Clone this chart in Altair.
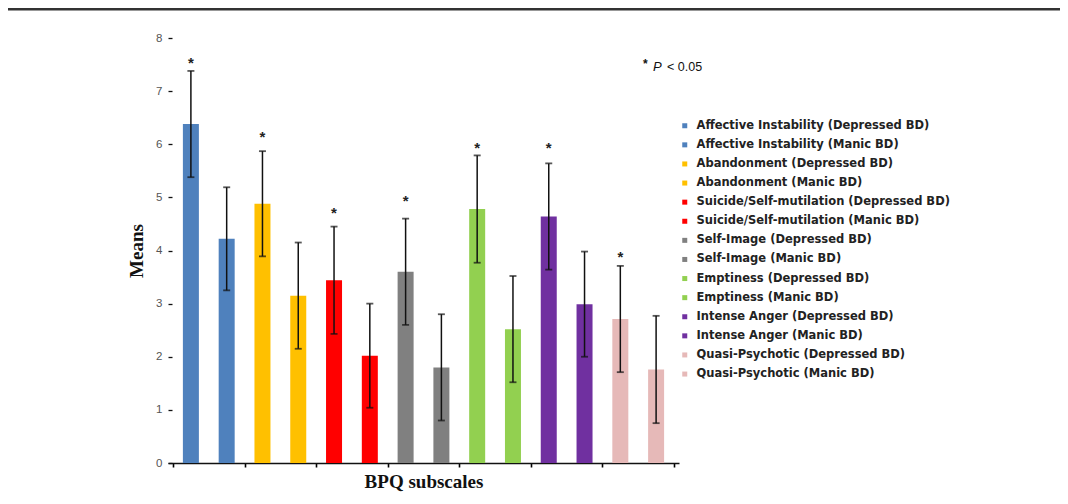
import altair as alt
import pandas as pd

labels = [
    "Affective Instability (Depressed BD)",
    "Affective Instability (Manic BD)",
    "Abandonment (Depressed BD)",
    "Abandonment (Manic BD)",
    "Suicide/Self-mutilation (Depressed BD)",
    "Suicide/Self-mutilation (Manic BD)",
    "Self-Image (Depressed BD)",
    "Self-Image (Manic BD)",
    "Emptiness (Depressed BD)",
    "Emptiness (Manic BD)",
    "Intense Anger (Depressed BD)",
    "Intense Anger (Manic BD)",
    "Quasi-Psychotic (Depressed BD)",
    "Quasi-Psychotic (Manic BD)",
]
means = [6.38, 4.22, 4.88, 3.15, 3.44, 2.02, 3.60, 1.80, 4.78, 2.52, 4.64, 2.99, 2.71, 1.76]
errors = [1.00, 0.97, 0.99, 1.00, 1.01, 0.98, 1.00, 1.00, 1.01, 1.00, 1.00, 0.99, 1.00, 1.01]
star_y = [7.59, None, 6.20, None, 4.77, None, 4.99, None, 5.98, None, 5.98, None, 3.94, None]
colors = ["#4F81BD", "#4F81BD", "#FFC000", "#FFC000", "#FF0000", "#FF0000",
          "#808080", "#808080", "#92D050", "#92D050", "#7030A0", "#7030A0",
          "#E6B9B8", "#E6B9B8"]
y_ticks = [0, 1, 2, 3, 4, 5, 6, 7, 8]

df = pd.DataFrame({
    "label": labels,
    "pos": [i + 0.5 for i in range(len(labels))],
    "mean": means,
    "lo": [m - e for m, e in zip(means, errors)],
    "hi": [m + e for m, e in zip(means, errors)],
    "star": star_y,
})
stars_df = df.dropna(subset=["star"])

W, H = 511, 425
LEFT, TOP, BOTTOM = 160, 30, 35
TOTAL_W = 1052

x = alt.X("pos:Q", scale=alt.Scale(domain=[0, 14], nice=False, zero=False),
          axis=alt.Axis(values=list(range(15)), labels=False, title="BPQ subscales",
                        titleFont="Liberation Serif", titleFontSize=19, titleFontWeight="bold",
                        titleColor="#111", titlePadding=5, tickSize=4, tickColor="#000",
                        domainColor="#111", domainWidth=1.5, tickWidth=1.6, grid=False))
y_scale = alt.Scale(domain=[0, 8], nice=False)

bars = alt.Chart(df).mark_bar(size=16).encode(
    x=x,
    y=alt.Y("mean:Q", scale=y_scale,
            axis=alt.Axis(values=y_ticks, title="Means", titleFont="Liberation Serif",
                          titleFontSize=19, titleFontWeight="bold", titleColor="#111",
                          titlePadding=9, labelFont="Liberation Sans", labelFontSize=11.5,
                          labelColor="#555", labelPadding=6, tickSize=4, tickColor="#111",
                          tickWidth=1.3, domain=False, grid=False, offset=-4)),
    color=alt.Color("label:N", sort=labels,
                    scale=alt.Scale(domain=labels, range=colors),
                    legend=alt.Legend(title=None, orient="none", legendX=511, legendY=82,
                                      symbolType="square", symbolSize=25, symbolStrokeWidth=0,
                                      labelFont="DejaVu Sans", labelFontSize=11.5,
                                      labelFontWeight="bold", labelColor="#222",
                                      labelOffset=6, rowPadding=6.1, labelLimit=400)),
)

err = alt.Chart(df).mark_rule(color="#111", strokeWidth=1.5).encode(
    x="pos:Q", y=alt.Y("lo:Q", scale=y_scale), y2="hi:Q")
cap_hi = alt.Chart(df).mark_tick(color="#111", orient="horizontal", size=7, thickness=1.8).encode(
    x="pos:Q", y=alt.Y("hi:Q", scale=y_scale))
cap_lo = alt.Chart(df).mark_tick(color="#111", orient="horizontal", size=7, thickness=1.8).encode(
    x="pos:Q", y=alt.Y("lo:Q", scale=y_scale))

stars = alt.Chart(stars_df).mark_text(text="*", font="Liberation Sans", fontSize=15,
                                      fontWeight="bold", color="#222", baseline="middle",
                                      dy=3).encode(
    x="pos:Q", y=alt.Y("star:Q", scale=y_scale))

note_df = pd.DataFrame({"t": ["*"]})
note_star = alt.Chart(note_df).mark_text(text="*", font="Liberation Sans", fontSize=12,
                                         fontWeight="bold", color="#111", align="left",
                                         baseline="middle").encode(
    x=alt.value(475), y=alt.value(26))
note_p = alt.Chart(note_df).mark_text(text="P", font="Liberation Sans", fontSize=13,
                                      fontStyle="italic", color="#111", align="left",
                                      baseline="middle").encode(
    x=alt.value(485), y=alt.value(29))
note_v = alt.Chart(note_df).mark_text(text="< 0.05", font="Liberation Sans", fontSize=12.5,
                                      color="#111", align="left", baseline="middle").encode(
    x=alt.value(499), y=alt.value(29))

top_line = alt.Chart(note_df).mark_rule(color="#333", strokeWidth=3).encode(
    x=alt.value(-165), x2=alt.value(TOTAL_W - LEFT), y=alt.value(-29))

chart = alt.layer(bars, err, cap_hi, cap_lo, stars, note_star, note_p, note_v, top_line).properties(
    width=W, height=H,
    autosize=alt.AutoSizeParams(type="none"),
    padding={"left": LEFT, "top": TOP, "right": TOTAL_W - LEFT - W, "bottom": BOTTOM},
).configure(background="white").configure_view(stroke=None, strokeWidth=0)

chart.save("out.html", embed_options={"renderer": "svg", "actions": False})
